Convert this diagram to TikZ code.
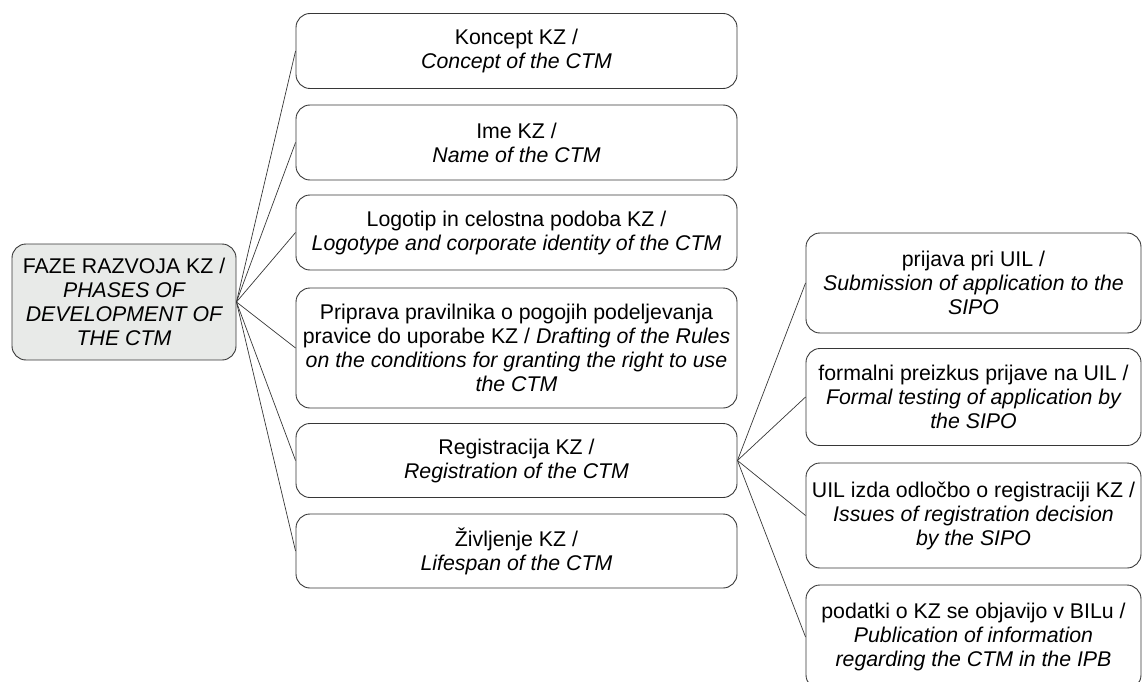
\documentclass[tikz,border=0pt]{standalone}
\usepackage{fontspec}
\setmainfont{Liberation Sans}
\usetikzlibrary{positioning}
\definecolor{Frame}{RGB}{55,55,55}
\definecolor{RootGray}{RGB}{232,234,232}
\tikzset{
	phase/.style={draw=Frame, line width=0.9pt, rounded corners=14pt, align=center, inner xsep=1pt, inner ysep=2pt, font=\fontsize{21.3}{24}\selectfont},
	midbox/.style={phase, minimum width=441pt, minimum height=#1},
	subbox/.style={phase, minimum width=335pt, minimum height=#1},
	link/.style={draw=Frame, line width=0.7pt},
}

\begin{document}
\begin{tikzpicture}[x=1pt, y=-1pt]
\useasboundingbox (0,0) rectangle (1143,682);

\node[phase, fill=RootGray, minimum width=224pt, minimum height=116pt] (faze) at (124,302) {FAZE RAZVOJA KZ /\\ \itshape PHASES OF\\ \itshape DEVELOPMENT OF\\ \itshape THE CTM};

\node[midbox=75pt] (koncept) at (516.5,51) {Koncept KZ /\\ \textit{Concept of the CTM}};
\node[midbox=75pt] (ime) at (516.5,142.5) {Ime KZ /\\ \textit{Name of the CTM}};
\node[midbox=75pt] (logotip) at (516.5,232.5) {Logotip in celostna podoba KZ /\\ \textit{Logotype and corporate identity of the CTM}};
\node[midbox=120pt] (pravilnik) at (516.5,348) {Priprava pravilnika o pogojih podeljevanja\\ pravice do uporabe KZ / \textit{Drafting of the Rules}\\ \itshape on the conditions for granting the right to use\\ \itshape the CTM};
\node[midbox=74pt] (registracija) at (516.5,460.5) {Registracija KZ /\\ \textit{Registration of the CTM}};
\node[midbox=74pt] (zivljenje) at (516.5,551) {Življenje KZ /\\ \textit{Lifespan of the CTM}};

\node[subbox=100pt] (prijava) at (973.5,283) {prijava pri UIL /\\ \itshape Submission of application to the\\ \itshape SIPO};
\node[subbox=97pt] (preizkus) at (973.5,397) {formalni preizkus prijave na UIL /\\ \itshape Formal testing of application by\\ \itshape the SIPO};
\node[subbox=105pt] (odlocba) at (973.5,515.5) {UIL izda odločbo o registraciji KZ /\\ \itshape Issues of registration decision\\ \itshape by the SIPO};
\node[subbox=104pt] (objava) at (973.5,637) {podatki o KZ se objavijo v BILu /\\ \itshape Publication of information\\ \itshape regarding the CTM in the IPB};

% phases
\draw[link] (faze.east) -- (koncept.west);
\draw[link] (faze.east) -- (ime.west);
\draw[link] (faze.east) -- (logotip.west);
\draw[link] (faze.east) -- (pravilnik.west);
\draw[link] (faze.east) -- (registracija.west);
\draw[link] (faze.east) -- (zivljenje.west);

% registration steps
\draw[link] (registracija.east) -- (prijava.west);
\draw[link] (registracija.east) -- (preizkus.west);
\draw[link] (registracija.east) -- (odlocba.west);
\draw[link] (registracija.east) -- (objava.west);

\end{tikzpicture}
\end{document}
